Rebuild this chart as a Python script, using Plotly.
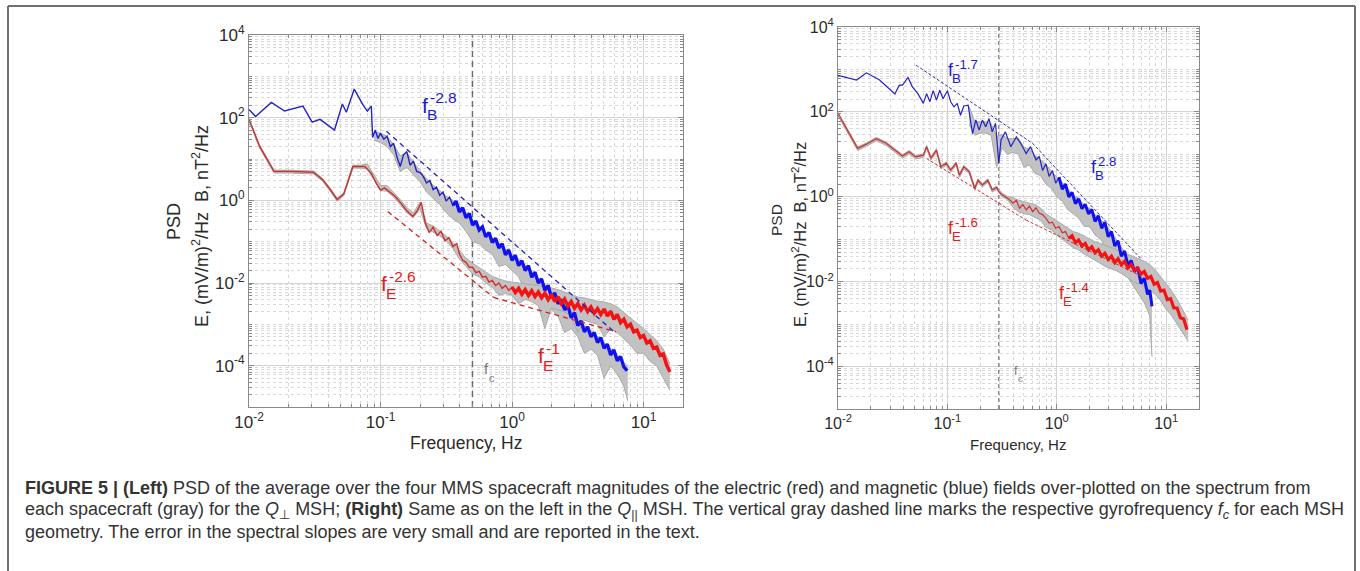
import numpy as np
import plotly.graph_objects as go

# ---------------- DATA (log10 frequency [Hz], log10 PSD) ----------------
# Left panel (Q_perp MSH)
lb_logf = [-2.00,-1.95,-1.83,-1.73,-1.59,-1.52,-1.46,-1.35,-1.29,-1.26,-1.20,-1.13,-1.10,-1.07,-1.06,
           -1.04,-1.02,-1.000,-0.975,-0.950,-0.925,-0.900,-0.875,-0.850,-0.825,-0.800,-0.775,-0.750,-0.725,
           -0.700,-0.675,-0.650,-0.625,-0.600,-0.575,-0.550,-0.525,-0.500,-0.475,-0.450,-0.425,-0.400,-0.375,
           -0.350,-0.325,-0.300,-0.275,-0.250,-0.225,-0.200,-0.175,-0.150,-0.125,-0.100,-0.075,-0.050,-0.025,
           0.000,0.025,0.050,0.075,0.100,0.125,0.150,0.175,0.200,0.225,0.250,0.275,0.300,0.325,0.350,0.375,
           0.400,0.425,0.450,0.475,0.500,0.525,0.550,0.575,0.600,0.625,0.650,0.675,0.700,0.725,0.750,0.775,
           0.800,0.825,0.850,0.875]
lb_logp = [2.20,2.03,2.37,2.16,2.28,1.89,1.96,1.70,2.33,2.13,2.69,2.29,2.16,2.28,1.52,
           1.70,1.50,1.62,1.48,1.55,1.30,1.38,1.05,0.82,1.10,1.18,0.85,0.95,0.70,
           0.67,0.58,0.42,0.48,0.26,0.32,0.12,0.20,-0.02,0.08,-0.12,-0.02,-0.28,-0.18,
           -0.42,-0.32,-0.60,-0.50,-0.72,-0.64,-0.88,-0.78,-1.02,-0.92,-1.15,-1.05,-1.32,-1.20,
           -1.45,-1.33,-1.58,-1.46,-1.70,-1.58,-1.86,-1.74,-2.00,-1.90,-2.18,-2.06,-2.36,-2.24,-2.50,-2.40,
           -2.65,-2.55,-2.84,-2.72,-3.03,-2.92,-3.18,-3.06,-3.30,-3.20,-3.44,-3.32,-3.58,-3.48,-3.74,-3.62,
           -3.88,-3.78,-4.03,-4.12]

lr_logf = [-2.00,-1.92,-1.81,-1.69,-1.51,-1.44,-1.38,-1.33,-1.28,-1.24,-1.21,-1.12,-1.07,-1.03,-1.00,-0.97,
           -0.93,-0.89,-0.85,-0.80,-0.755,-0.72,-0.69,-0.66,-0.63,-0.60,-0.57,-0.54,-0.51,-0.48,-0.45,-0.42,
           -0.400,-0.375,-0.350,-0.325,-0.300,-0.275,-0.250,-0.225,-0.200,-0.175,
           -0.150,-0.125,-0.100,-0.075,-0.050,-0.025,0.000,0.025,0.050,0.075,
           0.100,0.125,0.150,0.175,0.200,0.225,0.250,0.275,0.300,0.325,
           0.350,0.375,0.400,0.425,0.450,0.475,0.500,0.525,0.550,0.575,
           0.600,0.625,0.650,0.675,0.700,0.725,0.750,0.775,0.800,0.825,
           0.850,0.875,0.900,0.925,0.950,0.975,1.000,1.025,1.050,1.075,
           1.100,1.125,1.150,1.175,1.200]
lr_logp = [1.96,1.31,0.70,0.70,0.68,0.50,0.25,0.02,0.15,0.55,0.82,0.82,0.65,0.40,0.25,0.30,
           0.19,0.10,-0.05,-0.25,-0.39,-0.25,-0.05,-0.55,-0.78,-0.65,-0.85,-0.75,-0.98,-0.90,-1.12,-1.05,
           -1.30,-1.45,-1.50,-1.62,-1.62,-1.75,-1.72,-1.86,-1.84,-1.98,
           -1.94,-2.06,-2.00,-2.13,-2.06,-2.18,-2.10,-2.23,-2.13,-2.27,
           -2.16,-2.30,-2.19,-2.33,-2.22,-2.36,-2.25,-2.40,-2.28,-2.45,
           -2.33,-2.50,-2.39,-2.56,-2.45,-2.61,-2.50,-2.65,-2.54,-2.69,
           -2.58,-2.73,-2.62,-2.76,-2.63,-2.80,-2.68,-2.88,-2.76,-2.96,
           -2.88,-3.06,-3.00,-3.18,-3.14,-3.32,-3.27,-3.45,-3.40,-3.58,
           -3.55,-3.75,-3.72,-3.98,-4.15]

# spread of the individual spacecraft spectra (gray) - left panel
lgb_logf = [-1.05,-1.00,-0.95,-0.90,-0.85,-0.80,-0.75,-0.70,-0.65,-0.60,-0.55,-0.50,-0.45,-0.40,-0.35,
            -0.30,-0.25,-0.20,-0.15,-0.10,-0.05,0.00,0.05,0.10,0.15,0.20,0.25,0.30,0.35,0.40,0.45,0.50,
            0.55,0.60,0.65,0.70,0.75,0.80,0.85,0.88]
lgb_hi = [1.65,1.63,1.55,1.35,1.08,1.15,0.92,0.72,0.52,0.37,0.24,0.10,0.00,-0.16,-0.30,-0.48,-0.66,
          -0.78,-0.92,-1.04,-1.18,-1.30,-1.44,-1.56,-1.72,-1.88,-2.04,-2.22,-2.36,-2.52,-2.68,-2.88,
          -3.02,-3.16,-3.28,-3.44,-3.58,-3.74,-3.90,-4.02]
lgb_lo = [1.45,1.40,1.30,1.10,0.70,0.80,0.62,0.45,0.20,0.05,-0.10,-0.30,-0.45,-0.55,-0.75,-1.00,-1.05,
          -1.20,-1.30,-1.60,-1.55,-1.70,-1.85,-2.20,-2.10,-2.30,-2.45,-2.65,-2.80,-3.20,-3.10,-3.30,
          -3.70,-3.60,-3.75,-4.30,-4.00,-4.20,-4.50,-4.85]

lgr_logf = [-2.00,-1.92,-1.81,-1.69,-1.51,-1.44,-1.38,-1.33,-1.28,-1.24,-1.21,-1.15,
            -1.10,-1.05,-1.00,-0.95,-0.90,-0.85,-0.80,-0.75,-0.70,-0.65,-0.60,-0.55,-0.50,-0.45,-0.40,
            -0.35,-0.30,-0.25,-0.20,-0.15,-0.10,-0.05,0.00,0.05,0.10,0.15,0.20,0.25,0.30,0.35,0.40,
            0.45,0.50,0.55,0.60,0.65,0.70,0.75,0.80,0.85,0.90,0.95,1.00,1.05,1.10,1.15,1.20]
lgr_hi = [1.99,1.34,0.73,0.73,0.71,0.53,0.28,0.05,0.18,0.58,0.85,0.85,
          0.88,0.62,0.36,0.36,0.20,0.02,-0.18,-0.30,-0.05,-0.55,-0.62,-0.74,-0.86,-1.02,-1.22,
          -1.40,-1.52,-1.62,-1.74,-1.84,-1.90,-1.95,-1.98,-2.00,-2.02,-2.04,-2.06,-2.08,-2.12,-2.16,
          -2.22,-2.28,-2.34,-2.36,-2.40,-2.44,-2.46,-2.50,-2.58,-2.72,-2.84,-2.98,-3.10,-3.24,-3.40,
          -3.60,-3.95]
lgr_lo = [1.92,1.27,0.66,0.66,0.64,0.46,0.21,-0.02,0.11,0.51,0.78,0.78,
          0.76,0.50,0.24,0.22,0.08,-0.10,-0.30,-0.42,-0.20,-0.68,-0.76,-0.86,-0.98,-1.16,-1.42,
          -1.60,-1.78,-1.85,-2.00,-2.10,-2.30,-2.25,-2.30,-2.50,-2.40,-2.45,-2.55,-3.10,-2.60,-2.65,
          -2.70,-2.80,-3.20,-2.90,-2.95,-3.00,-3.30,-3.10,-3.20,-3.35,-3.50,-3.70,-3.70,-3.90,-4.00,
          -4.30,-4.60]

# power-law fits, left panel: (log f start, log f end), (log PSD start, log PSD end)
lfit_b_logf = [-0.955, 0.79];  lfit_b_logp = [1.67, -3.22]    # f_B^-2.8
lfit_e1_logf = [-0.945, -0.14]; lfit_e1_logp = [-0.27, -2.35]  # f_E^-2.6
lfit_e2_logf = [-0.14, 0.79];  lfit_e2_logp = [-2.35, -3.18]   # f_E^-1
left_fc = 0.5  # Hz

# Right panel (Q_par MSH)
rb_logf = [-2.00,-1.83,-1.74,-1.62,-1.48,-1.44,-1.41,-1.36,-1.32,-1.27,-1.22,-1.19,-1.16,-1.13,-1.10,
           -1.07,-1.04,-1.00,-0.97,-0.94,-0.91,-0.88,-0.85,-0.81,-0.79,-0.77,-0.74,-0.71,-0.68,-0.65,
           -0.62,-0.59,-0.56,-0.53,-0.51,-0.47,-0.42,-0.37,-0.33,-0.28,-0.24,-0.19,
           -0.16,-0.13,-0.10,-0.07,-0.04,-0.01,0.02,0.05,0.08,0.11,0.14,0.17,0.20,0.23,0.26,0.29,0.32,
           0.35,0.38,0.41,0.44,0.47,0.50,0.53,0.56,0.59,0.62,0.65,0.68,0.71,0.74,0.77,0.80,0.83,0.85,0.87]
rb_logp = [2.86,2.75,2.92,2.75,2.42,2.63,2.63,2.81,2.59,2.43,2.20,2.43,2.24,2.50,2.28,
           2.51,2.31,2.50,2.24,2.12,2.20,1.92,2.14,2.16,1.81,1.49,1.81,1.57,1.81,1.65,
           1.84,1.53,1.73,0.79,1.34,1.53,1.18,1.41,1.26,1.02,1.18,0.87,
           0.95,0.62,0.78,0.48,0.62,0.32,0.46,0.18,0.30,0.00,0.10,-0.16,-0.05,-0.28,-0.18,-0.40,-0.30,
           -0.58,-0.45,-0.74,-0.60,-0.94,-0.82,-1.16,-1.04,-1.40,-1.28,-1.62,-1.50,-1.76,-1.66,-2.04,
           -1.92,-2.30,-2.20,-2.58]

rr_logf = [-2.00,-1.92,-1.82,-1.74,-1.65,-1.56,-1.48,-1.41,-1.35,-1.29,-1.22,-1.19,-1.15,-1.10,-1.06,
           -1.01,-0.97,-0.92,-0.89,-0.85,-0.80,-0.75,-0.72,-0.68,-0.63,-0.59,-0.55,-0.53,-0.50,-0.47,
           -0.44,-0.40,-0.37,-0.34,-0.31,-0.28,-0.25,-0.22,-0.19,-0.16,-0.13,
           -0.10,-0.07,-0.04,-0.01,0.02,0.05,0.08,0.11,0.14,0.17,0.20,0.23,0.26,0.29,0.32,0.35,0.38,
           0.41,0.44,0.47,0.50,0.53,0.56,0.59,0.62,0.65,0.68,0.71,0.74,0.77,0.80,0.83,0.86,0.89,0.92,
           0.95,0.98,1.01,1.04,1.07,1.10,1.13,1.16,1.19]
rr_logp = [1.96,1.61,1.14,1.24,1.37,1.26,1.10,0.96,1.06,0.94,0.98,1.18,0.91,1.10,0.71,
           0.79,0.63,0.79,0.51,0.71,0.59,0.20,0.39,0.28,0.39,0.16,0.22,0.12,0.05,0.00,
           -0.05,-0.15,-0.08,-0.27,-0.18,-0.31,-0.22,-0.35,-0.26,-0.39,-0.42,
           -0.50,-0.62,-0.60,-0.74,-0.70,-0.85,-0.82,-0.98,-0.92,-1.08,-1.02,-1.16,-1.10,-1.25,-1.18,
           -1.32,-1.25,-1.40,-1.33,-1.48,-1.40,-1.55,-1.46,-1.60,-1.52,-1.68,-1.60,-1.74,-1.68,-1.82,
           -1.76,-1.92,-1.88,-2.06,-2.02,-2.22,-2.20,-2.42,-2.40,-2.62,-2.62,-2.85,-2.88,-3.13]

rgb_logf = [-0.80,-0.75,-0.70,-0.65,-0.60,-0.55,-0.50,-0.45,-0.40,-0.35,-0.30,-0.25,-0.20,-0.15,-0.10,
            -0.05,0.00,0.05,0.10,0.15,0.20,0.25,0.30,0.35,0.40,0.45,0.50,0.55,0.60,0.65,0.70,0.75,0.80,
            0.85,0.87]
rgb_hi = [2.12,1.77,1.77,1.77,1.72,1.42,1.47,1.37,1.37,1.37,1.17,1.12,0.97,0.87,0.77,0.60,0.47,0.34,
          0.20,0.02,-0.03,-0.20,-0.28,-0.43,-0.53,-0.68,-0.83,-1.03,-1.23,-1.43,-1.60,-1.80,-1.98,-2.23,
          -2.48]
rgb_lo = [1.70,1.45,1.50,1.50,1.45,0.70,1.15,1.00,1.05,1.00,0.70,0.75,0.55,0.50,0.30,0.20,0.00,-0.10,
          -0.30,-0.40,-0.50,-0.70,-0.70,-0.90,-1.00,-1.20,-1.30,-1.50,-1.70,-1.90,-2.10,-2.30,-2.50,
          -2.80,-3.76]

rgr_logf = [-2.00,-1.92,-1.82,-1.74,-1.65,-1.56,-1.48,-1.41,-1.35,-1.29,-1.22,-1.19,-1.15,-1.10,-1.06,
            -1.01,-0.97,-0.92,-0.89,-0.85,-0.80,-0.75,-0.72,-0.68,-0.63,-0.59,-0.55,-0.50,-0.45,
            -0.40,-0.35,-0.30,-0.25,-0.20,-0.15,-0.10,-0.05,0.00,0.05,0.10,0.15,0.20,0.25,0.30,0.35,
            0.40,0.45,0.50,0.55,0.60,0.65,0.70,0.75,0.80,0.85,0.90,0.95,1.00,1.05,1.10,1.15,1.20]
rgr_hi = [1.99,1.64,1.17,1.27,1.40,1.29,1.13,0.99,1.09,0.97,1.01,1.21,0.94,1.13,0.74,
          0.82,0.66,0.82,0.54,0.74,0.62,0.23,0.42,0.31,0.42,0.19,0.25,0.08,0.01,
          -0.02,-0.08,-0.12,-0.15,-0.18,-0.26,-0.40,-0.48,-0.56,-0.65,-0.72,-0.82,-0.86,-0.92,-1.00,
          -1.06,-1.10,-1.15,-1.20,-1.25,-1.30,-1.35,-1.40,-1.46,-1.52,-1.60,-1.72,-1.88,-2.05,-2.22,
          -2.42,-2.65,-2.90]
rgr_lo = [1.91,1.56,1.09,1.19,1.32,1.21,1.05,0.91,1.01,0.89,0.93,1.13,0.86,1.05,0.66,
          0.74,0.58,0.74,0.46,0.66,0.54,0.15,0.34,0.23,0.34,0.11,0.17,0.00,-0.07,
          -0.25,-0.35,-0.40,-0.42,-0.48,-0.55,-0.72,-0.78,-0.90,-1.00,-1.10,-1.20,-1.25,-1.35,-1.42,
          -1.50,-1.58,-1.65,-1.70,-1.75,-1.82,-1.90,-2.00,-2.05,-2.10,-2.20,-2.30,-2.45,-2.65,-2.80,
          -3.00,-3.20,-3.40]

rfit_b1_logf = [-1.286, -0.222]; rfit_b1_logp = [3.10, 1.26]   # f_B^-1.7
rfit_b2_logf = [-0.222, 0.766];  rfit_b2_logp = [1.26, -1.45]  # f_B^-2.8
rfit_e1_logf = [-1.19, -0.28];   rfit_e1_logp = [0.90, -0.55]  # f_E^-1.6
rfit_e2_logf = [-0.28, 0.78];    rfit_e2_logp = [-0.55, -1.88] # f_E^-1.4
right_fc = 0.295  # Hz

x_tickvals = [0.01, 0.1, 1, 10]
x_ticktext = ["10<sup>-2</sup>", "10<sup>-1</sup>", "10<sup>0</sup>", "10<sup>1</sup>"]
y_tickvals = [1e-4, 1e-2, 1, 100, 1e4]
y_ticktext = ["10<sup>-4</sup>", "10<sup>-2</sup>", "10<sup>0</sup>", "10<sup>2</sup>", "10<sup>4</sup>"]

slope_labels = [  # panel, main, sub, sup, colour
    ("L", "f", "B", "-2.8", "blue"), ("L", "f", "E", "-2.6", "red"), ("L", "f", "E", "-1", "red"),
    ("L", "f", "c", "", "gray"),
    ("R", "f", "B", "-1.7", "blue"), ("R", "f", "B", "2.8", "blue"), ("R", "f", "E", "-1.6", "red"),
    ("R", "f", "E", "-1.4", "red"), ("R", "f", "c", "", "gray"),
]

caption_lines = [
    "<b>FIGURE 5 | (Left)</b> PSD of the average over the four MMS spacecraft magnitudes of the electric (red) and magnetic (blue) fields over-plotted on the spectrum from",
    "each spacecraft (gray) for the <i>Q</i><sub>⊥</sub> MSH; <b>(Right)</b> Same as on the left in the <i>Q</i><sub>||</sub> MSH. The vertical gray dashed line marks the respective gyrofrequency <i>f<sub>c</sub></i> for each MSH",
    "geometry. The error in the spectral slopes are very small and are reported in the text.",
]

# ---------------- FIGURE ----------------
W, H = 1360, 571
FONT = "Liberation Sans, Arial, Helvetica, sans-serif"
def px(x): return x / W
def py(y): return 1 - y / H

BLUE = "#1010f0"
BLUE_THIN = "#2323c8"
RED = "#f51212"
RED_THIN = "#d0302c"
GRAY = "#c2c2c2"
GRAY_EDGE = "#a9a9a9"

for a, b in [(lb_logf, lb_logp), (lr_logf, lr_logp), (rb_logf, rb_logp), (rr_logf, rr_logp),
             (lgb_logf, lgb_hi), (lgb_logf, lgb_lo), (lgr_logf, lgr_hi), (lgr_logf, lgr_lo),
             (rgb_logf, rgb_hi), (rgb_logf, rgb_lo), (rgr_logf, rgr_hi), (rgr_logf, rgr_lo)]:
    assert len(a) == len(b), (len(a), len(b))

fig = go.Figure()

def P10(v):
    return np.power(10.0, np.array(v, dtype=float))

def line(xl, yl, ax, color, width, dash=None):
    fig.add_trace(go.Scatter(x=P10(xl), y=P10(yl), mode="lines", xaxis="x" + ax, yaxis="y" + ax,
                             line=dict(color=color, width=width, dash=dash), showlegend=False,
                             hoverinfo="skip"))

def spectrum(xl, yl, ax, thin_col, col, w_thin, w_thick, thick_from):
    xl = np.array(xl); yl = np.array(yl)
    line(xl, yl, ax, thin_col, w_thin)
    m = xl >= thick_from
    line(xl[m], yl[m], ax, col, w_thick)

def band(xl, lo, hi, ax):
    fig.add_trace(go.Scatter(x=P10(xl), y=P10(lo), mode="lines", xaxis="x" + ax, yaxis="y" + ax,
                             line=dict(color=GRAY_EDGE, width=1), showlegend=False, hoverinfo="skip"))
    fig.add_trace(go.Scatter(x=P10(xl), y=P10(hi), mode="lines", xaxis="x" + ax, yaxis="y" + ax,
                             line=dict(color=GRAY_EDGE, width=1), fill="tonexty", fillcolor=GRAY,
                             showlegend=False, hoverinfo="skip"))

def vline(f, ax, width, dash):
    fig.add_trace(go.Scatter(x=[f, f], y=[1e-5, 1e4], mode="lines", xaxis="x" + ax, yaxis="y" + ax,
                             line=dict(color="#6a6a6a", width=width, dash=dash), showlegend=False,
                             hoverinfo="skip"))

# left panel (axis suffix "")
vline(left_fc, "", 1.4, "6px,4px")
band(lgb_logf, lgb_lo, lgb_hi, "")
band(lgr_logf, lgr_lo, lgr_hi, "")
spectrum(lb_logf, lb_logp, "", BLUE_THIN, BLUE, 1.4, 3.3, -0.45)
spectrum(lr_logf, lr_logp, "", RED_THIN, RED, 1.4, 3.5, 0.0)
line(lfit_b_logf, lfit_b_logp, "", "#2020c8", 1.3, "5px,4px")
line(lfit_e1_logf, lfit_e1_logp, "", "#d42020", 1.3, "5px,4px")
line(lfit_e2_logf, lfit_e2_logp, "", "#d42020", 1.3, "5px,4px")

# right panel (axis suffix "2")
vline(right_fc, "2", 1.1, "4px,3px")
band(rgb_logf, rgb_lo, rgb_hi, "2")
band(rgr_logf, rgr_lo, rgr_hi, "2")
spectrum(rb_logf, rb_logp, "2", BLUE_THIN, BLUE, 1.2, 3.0, 0.0)
spectrum(rr_logf, rr_logp, "2", RED_THIN, RED, 1.2, 3.2, 0.1)
line(rfit_b1_logf, rfit_b1_logp, "2", "#3030a0", 1.0, "3px,2px")
line(rfit_b2_logf, rfit_b2_logp, "2", "#3030a0", 1.0, "3px,2px")
line(rfit_e1_logf, rfit_e1_logp, "2", "#c83030", 1.0, "3px,2px")
line(rfit_e2_logf, rfit_e2_logp, "2", "#c83030", 1.0, "3px,2px")

x_minor = [m * 10.0 ** e for e in range(-2, 2) for m in range(2, 10)]
y_minor = [m * 10.0 ** e for e in range(-5, 4) for m in range(2, 10)] + [1e-5, 1e-3, 1e-1, 10, 1e3]

def axis(kind, domain, anchor, fs):
    d = dict(type="log", domain=domain, anchor=anchor, tickmode="array", automargin=False,
             tickfont=dict(family=FONT, size=fs, color="#2b2b2b"),
             ticks="inside", ticklen=5, tickcolor="#8a8a8a", showline=True, linecolor="#8a8a8a",
             linewidth=1, mirror="ticks", showgrid=True, gridcolor="#d4d4d4", gridwidth=1,
             zeroline=False, fixedrange=True)
    if kind == "x":
        d.update(range=[-2, 1.3], tickvals=x_tickvals, ticktext=x_ticktext)
        mv = x_minor
    else:
        d.update(range=[-5, 4], tickvals=y_tickvals, ticktext=y_ticktext)
        mv = y_minor
    d["minor"] = dict(tickmode="array", tickvals=mv, ticks="inside", ticklen=3, tickcolor="#8a8a8a",
                      showgrid=True, gridcolor="#d8d8d8", griddash="dot", gridwidth=1)
    return d

fig.update_layout(
    width=W, height=H, autosize=False,
    margin=dict(l=0, r=0, t=0, b=0, pad=0, autoexpand=False),
    paper_bgcolor="white", plot_bgcolor="white", showlegend=False,
    xaxis=axis("x", [px(249), px(683)], "y", 17),
    yaxis=axis("y", [py(407), py(35)], "x", 17),
    xaxis2=axis("x", [px(838), px(1199)], "y2", 16),
    yaxis2=axis("y", [py(409), py(27)], "x2", 16),
)

ann = []
def text(x, y, t, size, color="#2b2b2b", angle=0, xanchor="center"):
    ann.append(dict(x=px(x), y=py(y), xref="paper", yref="paper", text=t, showarrow=False,
                    textangle=angle, xanchor=xanchor, yanchor="middle",
                    font=dict(family=FONT, size=size, color=color)))

# axis titles
text(466, 443, "Frequency, Hz", 17.5)
text(1018, 444, "Frequency, Hz", 15)
text(174, 222, "PSD", 18, angle=-90)
text(201, 226, "E, (mV/m)<sup>2</sup>/Hz  B, nT<sup>2</sup>/Hz", 18, angle=-90)
text(777, 220, "PSD", 15.5, angle=-90)
text(799, 235, "E, (mV/m)<sup>2</sup>/Hz  B, nT<sup>2</sup>/Hz", 16.5, angle=-90)

# slope labels: position of the 'f' glyph (px)
label_pos = [(420, 105), (379, 283), (536, 355), (482, 368),
             (946, 70), (1089, 167), (946, 228), (1057, 293), (1012, 370)]
colmap = {"blue": "#1a1ad9", "red": "#e02020", "gray": "#7a7a7a"}
for (panel, main, sub, sup, col), (x, y) in zip(slope_labels, label_pos):
    s = 1.0 if panel == "L" else 0.85
    fs = (15 if col == "gray" else 21) * s
    c = colmap[col]
    text(x, y, main, fs, c, xanchor="left")
    text(x + 5 * s, y + 10 * s, sub, fs * 0.74, c, xanchor="left")
    if sup:
        text(x + 8 * s, y - 7 * s, sup, fs * 0.74, c, xanchor="left")

# caption
for i, t in enumerate(caption_lines):
    text(23, 488 + 22 * i, t, 18, "#333333", xanchor="left")

fig.update_layout(annotations=ann)

# outer frame
fr = dict(color="#707070", width=2)
fig.update_layout(shapes=[
    dict(type="line", xref="paper", yref="paper", x0=px(8), x1=px(1355), y0=py(6), y1=py(6), line=fr),
    dict(type="line", xref="paper", yref="paper", x0=px(8), x1=px(8), y0=py(6), y1=py(575), line=fr),
    dict(type="line", xref="paper", yref="paper", x0=px(1355), x1=px(1355), y0=py(6), y1=py(575), line=fr),
])

fig.write_html("out.html",
               post_script="document.body.style.margin='0';document.body.style.overflow='hidden';")
